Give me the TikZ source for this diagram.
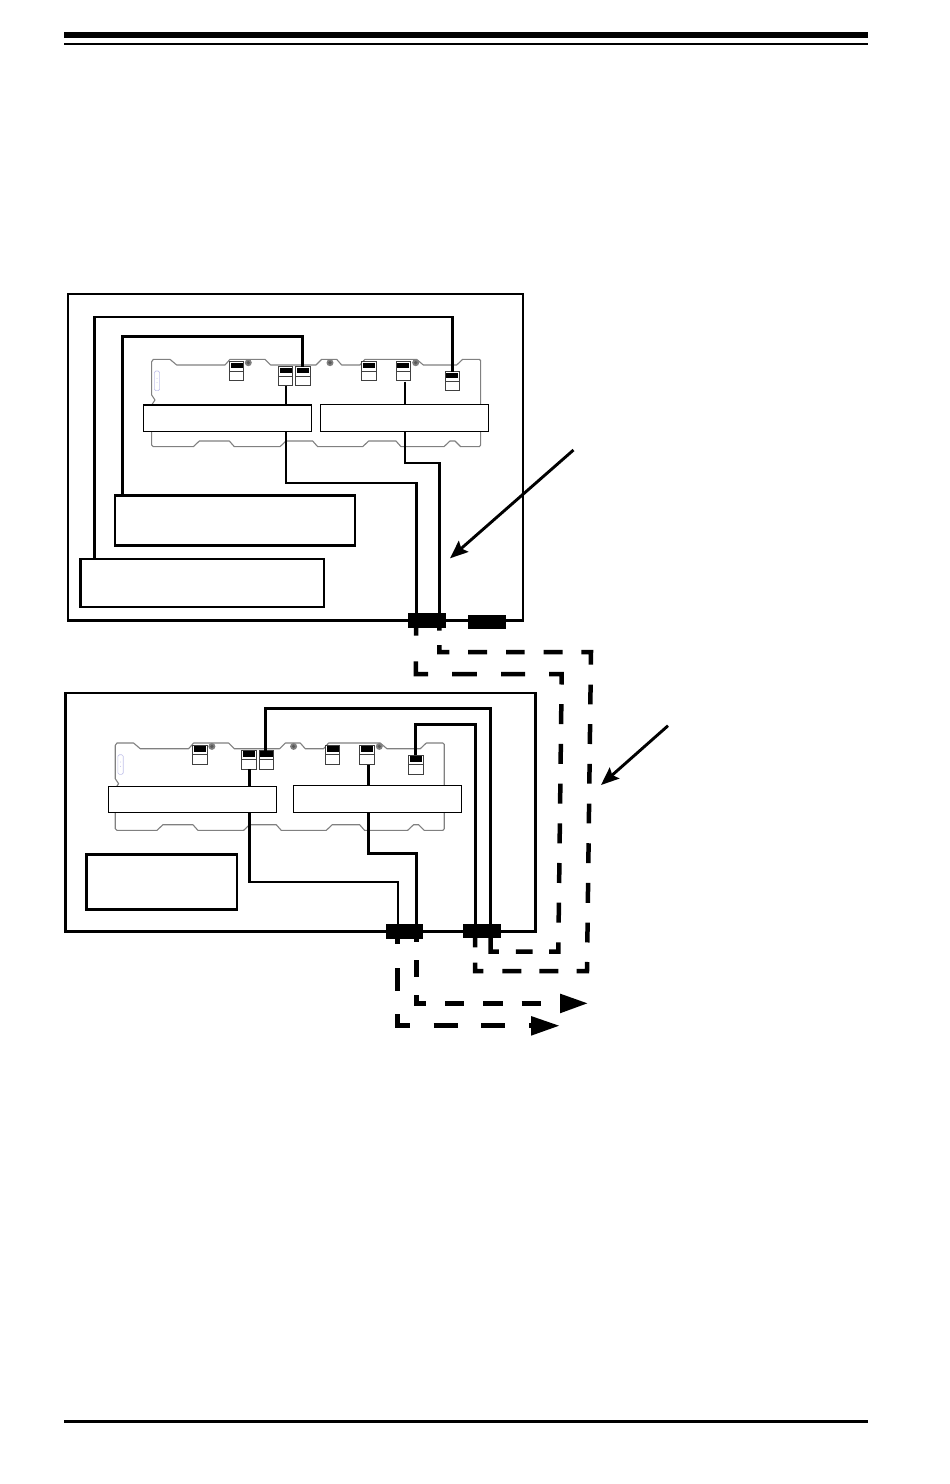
\documentclass[tikz,border=0pt]{standalone}
\usetikzlibrary{arrows.meta}
\definecolor{boardgray}{gray}{0.5}
\definecolor{conngray}{gray}{0.25}
\definecolor{lav}{RGB}{195,195,235}
\tikzset{
  chassis/.style={draw=black,line width=2.8pt,fill=white,inner sep=0,outer sep=0},
  slotbox/.style={draw=black,line width=1.1pt,fill=white,inner sep=0,outer sep=0},
  blackconn/.style={draw=none,fill=black,inner sep=0,outer sep=0},
  socket/.style={draw=conngray,line width=1pt,fill=white,inner sep=0,outer sep=0,minimum width=14.5pt,minimum height=19pt,anchor=north west},
  cable/.style={draw=black,line width=2.8pt,line join=miter},
  thincable/.style={draw=black,line width=2.3pt,line join=miter},
  outline/.style={draw=boardgray,line width=1.1pt,line join=round},
  extcable/.style={draw=black,line width=4.5pt,line join=miter},
  pointer/.style={draw=black,line width=2.9pt,-{Stealth[length=18pt,width=14.5pt,inset=3pt]}},
  headtip/.style={draw=none,fill=black},
}
\newcommand{\pxnode}[6]{\node[#2,minimum width={(#5-#3)*1pt},minimum height={(#6-#4)*1pt},anchor=north west] (#1) at (#3,#4) {};}
\newcommand{\sock}[3]{%
  \node[socket] (#1) at (#2,#3) {};
  \fill[black] (#2+1.2,#3+1) rectangle (#2+13.4,#3+6.4);
  \draw[conngray,line width=.8pt] (#2,#3+9.4) -- (#2+14.5,#3+9.4);
}
\newcommand{\screwhole}[2]{%
  \fill[boardgray] (#1,#2) circle (3.5pt);
  \fill[black!65] (#1,#2) circle (1.8pt);
}
\newcommand{\board}[3]{%
\begin{scope}[shift={(#2,#3)}]
  \begin{scope}[shift={(130,310)},x=.33333pt,y=-.33333pt]
    \draw[outline] (65,155) -- (70,148) -- (120,148) -- (140,165) -- (285,165) -- (300,148) -- (405,148) -- (422,165) -- (558,165) -- (575,148) -- (620,148) -- (635,165) -- (690,165) -- (705,148) -- (860,148) -- (880,165) -- (980,165) -- (998,148) -- (1048,148) -- (1052,152) -- (1052,405) -- (1048,410) -- (992,410) -- (975,393) -- (960,393) -- (942,410) -- (813,410) -- (798,393) -- (716,393) -- (698,410) -- (563,410) -- (548,393) -- (468,393) -- (450,410) -- (313,410) -- (298,393) -- (208,393) -- (190,410) -- (70,410) -- (65,405) -- (65,285) -- (75,270) -- (65,255) -- cycle;
    \draw[lav,line width=.6pt,rounded corners=1.5pt] (73,183) rectangle (89,242);
    \fill[lav] (81,205) circle (1.5) (81,218) circle (1.5);
  \end{scope}
  \screwhole{248.3}{362.7}
  \screwhole{330}{362.7}
  \screwhole{415.7}{362.7}
  \sock{#1c1}{229.3}{361.7}
  \sock{#1c2}{278.3}{366.7}
  \sock{#1c3}{295.6}{366.7}
  \sock{#1c4}{361.7}{361.7}
  \sock{#1c5}{396}{361.7}
  \sock{#1c6}{445}{371.7}
\end{scope}}
\begin{document}
\begin{tikzpicture}[x=1pt,y=-1pt]
\useasboundingbox (0,0) rectangle (950,1484);
\fill[white] (0,0) rectangle (950,1484);
% header and footer rules
\pxnode{headA}{blackconn}{63.5}{32}{868}{38}
\pxnode{headB}{blackconn}{63.5}{43}{868}{45.2}
\pxnode{foot}{blackconn}{63.5}{1420}{868}{1423}
% chassis
\pxnode{chA}{chassis}{68}{294}{523}{620.3}
\pxnode{chB}{chassis}{65.3}{693}{535.8}{931.5}
% boards
\board{a}{0}{0}
\board{b}{-36.4}{383.7}
% inner boxes
\pxnode{psA}{chassis}{115}{495.5}{355}{545.5}
\pxnode{psB}{chassis}{80.5}{559}{324}{607}
\pxnode{psC}{chassis}{86.5}{854.5}{237}{909.5}
% black chassis connectors
\pxnode{jA}{blackconn}{408}{613.3}{445.7}{627.7}
\pxnode{jB}{blackconn}{468}{615}{506}{629}
\pxnode{jC}{blackconn}{386}{924}{423}{938.7}
\pxnode{jD}{blackconn}{463}{924}{500.7}{937.7}
\coordinate (jA1) at (416.2,613.3);
\coordinate (jA2) at (439.5,613.3);
\coordinate (jA1s) at (416.2,627.7);
\coordinate (jA2s) at (439.3,627.7);
\coordinate (jC1) at (398,924);
\coordinate (jC2) at (416.5,924);
\coordinate (jC1s) at (397.7,938.7);
\coordinate (jC2s) at (416.3,938.7);
\coordinate (jD1) at (475.7,924);
\coordinate (jD2) at (490.7,924);
\coordinate (jD1s) at (475.2,937.7);
\coordinate (jD2s) at (490.7,937.7);
% cables, upper chassis
\draw[cable,line width=2.6pt] (ac6.north) |- (94.3,316.8) -- (94.3,559);
\draw[cable,line width=3pt] (ac3.north) |- (122,336.7) -- (122,495.5);
\draw[cable] (ac2.south) ++(.4,0) |- (416.2,483) -- (jA1);
\draw[thincable] (ac5.south) ++(1.7,1) |- (439.5,462.7) -- (jA2);
% cables, lower chassis
\draw[cable,line width=3pt] (bc3.north) ++(-1.2,.5) |- (490.7,708.3) -- (jD2);
\draw[cable,line width=3pt] (bc6.north) |- (475.7,724.3) -- (jD1);
\draw[cable] (bc2.south) |- (398,882) -- (jC1);
\draw[thincable] (bc5.south) ++(1.7,1) |- (416.5,853.5) -- (jC2);
% white slot boxes over the cables
\pxnode{sA}{slotbox}{143.3}{405}{311.7}{431.7}
\pxnode{sB}{slotbox}{320.3}{404.3}{488.7}{431.7}
\pxnode{sC}{slotbox}{108.3}{786.3}{276.7}{812.7}
\pxnode{sD}{slotbox}{293.3}{785.3}{461.7}{812.7}
% dashed external cables
\draw[extcable,dash pattern=on 8pt off 25.7pt on 25pt off 24pt on 24.7pt off 24.3pt on 24pt off 24pt on 23pt off 19.7pt on 20pt off 19.7pt on 20pt off 19.7pt on 20pt off 19.7pt on 20pt off 19.7pt on 20pt off 19.7pt on 20pt off 19.7pt on 18.5pt off 16.6pt on 16.7pt off 17pt on 24pt off 10pt]
  (jA1s) -- (415.8,674) -- (561.7,674) -- (558.3,951.7) -- (490.7,951.7) -- (jD2s);
\draw[extcable,dash pattern=on 3pt off 14.3pt on 17pt off 18.7pt on 19pt off 19pt on 18.6pt off 19pt on 19pt off 18.7pt on 22.3pt off 20pt on 19.7pt off 19.85pt on 19.85pt off 19.85pt on 19.85pt off 19.85pt on 19.85pt off 19.85pt on 19.85pt off 19.85pt on 19.85pt off 19.85pt on 19.85pt off 19.5pt on 19.3pt off 18.3pt on 19pt off 18pt on 19pt off 19pt on 16.5pt off 15.3pt on 12pt off 10pt]
  (jA2s) -- (439.3,652) -- (591,652) -- (587,971) -- (475.2,971) -- (jD1s);
\draw[extcable,dash pattern=on 3pt off 18.3pt on 17pt off 18pt on 17.7pt off 19.5pt on 19pt off 19pt on 19.5pt off 19pt on 19.5pt off 40pt]
  (jC2s) -- (416.3,1003.3) -- (560,1003.3);
\draw[extcable,dash pattern=on 5.3pt off 24pt on 23pt off 23pt on 24pt off 23.3pt on 24.3pt off 23.3pt on 24pt off 24pt on 3pt off 20pt]
  (jC1s) -- (397.7,1025.5) -- (532,1025.5);
\coordinate (tipA) at (587.3,1003.3);
\coordinate (tipB) at (559,1025.7);
\fill[headtip] (tipA) -- (560,993.6) -- (560,1013.3) -- cycle;
\fill[headtip] (tipB) -- (531,1016) -- (531,1035.7) -- cycle;
% pointers
\coordinate (pA) at (573.5,450);
\coordinate (pAt) at (450,558.3);
\coordinate (pB) at (668,725.7);
\coordinate (pBt) at (601,785);
\draw[pointer] (pA) -- (pAt);
\draw[pointer] (pB) -- (pBt);
\end{tikzpicture}
\end{document}
